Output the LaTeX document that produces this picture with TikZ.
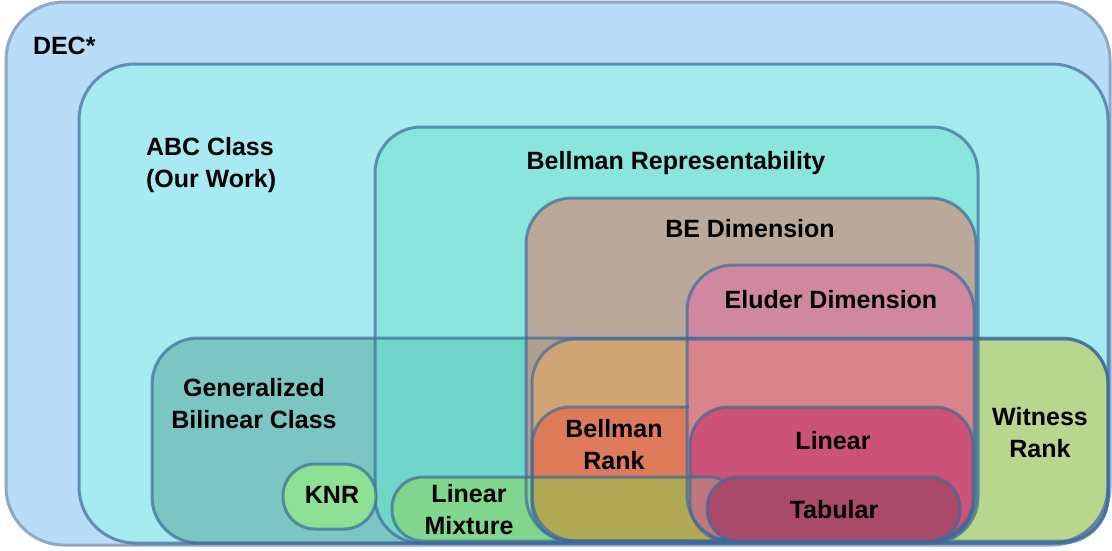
\documentclass[tikz,border=0pt]{standalone}
\usepackage{fontspec}
\setmainfont{Liberation Sans}
\begin{document}
\begin{tikzpicture}[x=1pt,y=-1pt,line cap=rect,
    rim/.style={line width=3.0pt, draw=custcol_rim, draw opacity=0.7},
    lbl/.style={inner sep=0, outer sep=0, align=center, font=\fontsize{25pt}{32pt}\selectfont\bfseries}]
    \definecolor{custcol_dec}{RGB}{185, 221, 248}
    \definecolor{custcol_decrim}{RGB}{143, 166, 196}
    \definecolor{custcol_abc}{RGB}{167, 234, 241}
    \definecolor{custcol_rep}{RGB}{138, 230, 220}
    \definecolor{custcol_be}{RGB}{186, 168, 154}
    \definecolor{custcol_eluder}{RGB}{207, 136, 160}
    \definecolor{custcol_gbc}{RGB}{123, 197, 195}
    \definecolor{custcol_gbc_rep}{RGB}{112, 214, 202}
    \definecolor{custcol_gbc_be}{RGB}{174, 160, 144}
    \definecolor{custcol_gbc_eluder}{RGB}{200, 130, 150}
    \definecolor{custcol_wit}{RGB}{184, 214, 142}
    \definecolor{custcol_wit_be}{RGB}{208, 164, 116}
    \definecolor{custcol_wit_eluder}{RGB}{216, 132, 138}
    \definecolor{custcol_brank}{RGB}{220, 122, 90}
    \definecolor{custcol_lmix}{RGB}{128, 214, 140}
    \definecolor{custcol_lmix_wit}{RGB}{176, 168, 82}
    \definecolor{custcol_lin}{RGB}{204, 82, 120}
    \definecolor{custcol_lin_lmix}{RGB}{192, 120, 128}
    \definecolor{custcol_tab}{RGB}{170, 74, 106}
    \definecolor{custcol_knr}{RGB}{141, 224, 148}
    \definecolor{custcol_rim}{RGB}{62, 106, 154}
    \useasboundingbox (0,0) rectangle (1112,550);
    % nested classes
    \fill [custcol_dec, rounded corners=58pt] (6,2) rectangle (1110,545);
    \fill [custcol_abc, rounded corners=56pt] (79,64) rectangle (1108,543);
    \fill [custcol_rep, rounded corners=46pt] (375,127) rectangle (978,543);
    \fill [custcol_be, rounded corners=46pt] (526,198) rectangle (976,541);
    \fill [custcol_eluder, rounded corners=46pt] (687,265) rectangle (974,541);
    % generalized bilinear class
    \fill [custcol_gbc, rounded corners=46pt] (152,338) rectangle (1108,543);
    \begin{scope}
        \clip [rounded corners=46pt] (152,338) rectangle (1108,543);
        \fill [custcol_gbc_rep, rounded corners=46pt] (375,127) rectangle (978,543);
        \fill [custcol_gbc_be, rounded corners=46pt] (526,198) rectangle (976,541);
        \fill [custcol_gbc_eluder, rounded corners=46pt] (687,265) rectangle (974,541);
    \end{scope}
    % witness rank
    \fill [custcol_wit, rounded corners=44pt] (532,339) rectangle (1108,541);
    \begin{scope}
        \clip [rounded corners=44pt] (532,339) rectangle (1108,541);
        \fill [custcol_wit_be, rounded corners=46pt] (526,198) rectangle (976,541);
        \fill [custcol_wit_eluder, rounded corners=46pt] (687,265) rectangle (974,541);
    \end{scope}
    % bellman rank
    \begin{scope}
        \clip (0,0) rectangle (687,550);
        \fill [custcol_brank, rounded corners=38pt] (532,407) rectangle (800,541);
    \end{scope}
    % linear mixture
    \fill [custcol_lmix, rounded corners=31pt] (392,477) rectangle (740,541);
    \begin{scope}
        \clip [rounded corners=44pt] (532,339) rectangle (1108,541);
        \fill [custcol_lmix_wit, rounded corners=31pt] (392,477) rectangle (740,541);
    \end{scope}
    % linear
    \fill [custcol_lin, rounded corners=38pt] (690,407) rectangle (973,541);
    \begin{scope}
        \clip [rounded corners=38pt] (690,407) rectangle (973,541);
        \fill [custcol_lin_lmix, rounded corners=31pt] (392,477) rectangle (740,541);
    \end{scope}
    % outlines
    \draw [line width=3.0pt, custcol_decrim, rounded corners=58pt] (6,2) rectangle (1110,545);
    \draw [rim, rounded corners=56pt] (79,64) rectangle (1108,543);
    \draw [rim, rounded corners=46pt] (375,127) rectangle (978,543);
    \draw [rim, rounded corners=46pt] (526,198) rectangle (976,541);
    \draw [rim, rounded corners=46pt] (687,265) rectangle (974,541);
    \draw [rim, rounded corners=46pt] (152,338) rectangle (1108,543);
    \draw [rim, rounded corners=44pt] (532,339) rectangle (1108,541);
    \begin{scope}
        \clip (0,0) rectangle (689,550);
        \draw [rim, rounded corners=38pt] (532,407) rectangle (800,541);
    \end{scope}
    \draw [rim, rounded corners=31pt] (392,477) rectangle (740,541);
    \draw [rim, rounded corners=38pt] (690,407) rectangle (973,541);
    % tabular and knr
    \fill [custcol_tab, rounded corners=31pt] (707,477) rectangle (960,541);
    \draw [rim, rounded corners=31pt] (707,477) rectangle (960,541);
    \fill [custcol_knr, rounded corners=32pt] (283,464) rectangle (376,529);
    \draw [rim, rounded corners=32pt] (283,464) rectangle (376,529);
    % labels
    \node [lbl, anchor=west] (decname) at (33,46) {DEC*};
    \node [lbl, anchor=west, align=left] (abcname) at (146,165) {ABC Class\\(Our Work)};
    \node [lbl] (repname) at (676,163) {Bellman Representability};
    \node [lbl] (bename) at (750,229) {BE Dimension};
    \node [lbl] (eludername) at (831,300) {Eluder Dimension};
    \node [lbl] (gbcname) at (254,404) {Generalized\\Bilinear Class};
    \node [lbl] (witname) at (1040,433) {Witness\\Rank};
    \node [lbl] (brankname) at (614,445) {Bellman\\Rank};
    \node [lbl] (linname) at (833,441) {Linear};
    \node [lbl] (tabname) at (834,510) {Tabular};
    \node [lbl] (knrname) at (332,495) {KNR};
    \node [lbl] (lmixname) at (469,510) {Linear\\Mixture};
\end{tikzpicture}
\end{document}
